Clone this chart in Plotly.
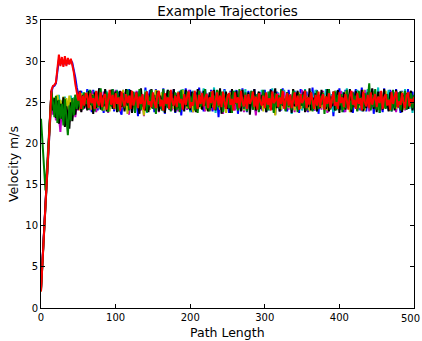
import plotly.graph_objects as go

# Path length samples: early part every 2 units, then every 2 units to 500
x_early = [0, 2, 4, 6, 8, 10, 12, 14, 16, 18, 20, 22, 24, 26, 28, 30,
           32, 34, 36, 38, 40, 42, 44, 46, 48, 50, 52, 54, 56, 58, 60]
x_late = list(range(62, 502, 2))
x_vals = x_early + x_late

# Velocity values (early transient + steady noisy band)
blue_early = [2.2, 5.7, 9.2, 12.7, 16.2, 19.7, 23.2, 26.3, 26.9, 27.0, 27.3, 28.8, 30.2, 29.6, 30.1, 29.5,
              30.2, 29.6, 30.0, 29.7, 30.1, 29.8, 29.0, 28.0, 26.8, 26.0, 25.2, 26.4, 24.4, 25.9, 24.6]
blue_late = [
    26.6, 24.1, 25.4, 23.8, 26.5, 24.7, 25.9, 24.0, 26.7, 24.3, 25.2, 23.7, 26.4, 24.9, 26.0, 24.2, 25.6, 26.6, 23.9, 25.3,
    24.5, 26.3, 24.0, 23.5, 26.5, 24.8, 25.7, 24.1, 26.6, 25.0, 23.8, 26.2, 24.4, 25.5, 23.3, 26.4, 24.6, 25.9, 24.0, 26.8,
    23.9, 25.4, 26.5, 24.3, 25.8, 23.8, 26.6, 24.5, 26.1, 24.2, 25.3, 26.7, 23.6, 25.8, 24.4, 26.3, 24.0, 25.5, 26.6, 23.7,
    25.9, 24.6, 26.4, 23.4, 25.6, 24.8, 26.7, 24.1, 25.2, 26.5, 23.8, 25.7, 24.3, 26.2, 24.0, 26.8, 24.5, 25.4, 23.9, 26.6,
    24.7, 25.8, 24.2, 26.5, 23.9, 26.3, 24.6, 25.9, 23.2, 26.0, 24.4, 25.5, 26.6, 24.0, 25.3, 23.7, 26.4, 24.8, 25.7, 24.2,
    26.5, 23.6, 25.6, 24.3, 26.7, 24.9, 25.1, 23.8, 26.4, 24.5, 25.8, 24.1, 26.6, 23.9, 25.4, 24.7, 26.2, 24.0, 25.7, 26.5,
    23.8, 25.3, 24.6, 26.6, 24.2, 25.9, 23.5, 26.3, 24.8, 25.5, 24.0, 26.7, 24.4, 25.2, 23.9, 26.5, 24.6, 25.8, 24.1, 26.4,
    24.3, 25.6, 23.7, 26.6, 24.9, 25.4, 24.2, 26.3, 23.8, 25.7, 24.5, 26.8, 24.0, 25.3, 26.5, 23.6, 25.9, 24.4, 26.2, 24.7,
    25.5, 23.9, 26.6, 24.3, 25.8, 23.3, 26.4, 24.6, 25.2, 26.7, 24.1, 25.6, 23.8, 26.5, 24.8, 25.9, 24.2, 26.3, 23.7, 25.4,
    26.6, 24.4, 25.7, 24.0, 26.8, 24.7, 25.3, 23.9, 26.5, 24.2, 25.8, 26.6, 23.6, 25.5, 24.5, 26.3, 24.1, 25.9, 23.8, 26.7,
    24.6, 25.4, 24.0, 26.5, 23.9, 25.7, 24.3, 26.6, 24.8, 25.2, 23.7, 26.4, 24.5, 25.9, 24.1, 26.6, 24.4, 25.6, 26.3, 24.2]

cyan_early = [2.1, 5.6, 9.1, 12.6, 16.1, 19.6, 23.1, 25.8, 24.6, 23.8, 25.4, 24.1, 25.9, 23.6, 25.2, 24.3,
              25.7, 23.9, 25.1, 24.5, 25.8, 24.0, 25.6, 24.4, 26.0, 24.7, 25.5, 24.3, 26.2, 24.9, 25.4]
cyan_late = [
    25.2, 26.5, 24.3, 25.8, 24.0, 26.4, 24.7, 25.5, 26.6, 24.2, 25.9, 24.6, 25.3, 26.4, 23.9, 25.7, 24.5, 26.2, 24.8, 25.0,
    26.5, 24.1, 25.6, 24.3, 26.1, 24.9, 25.4, 26.6, 24.0, 25.8, 24.6, 26.0, 23.8, 25.5, 26.3, 24.4, 25.9, 24.7, 25.2, 26.5,
    23.7, 25.6, 24.2, 26.1, 24.9, 25.7, 24.1, 26.4, 25.0, 24.5, 26.2, 23.9, 25.8, 24.6, 26.5, 24.3, 25.4, 26.0, 24.8, 25.6,
    24.0, 26.3, 24.7, 25.1, 26.6, 24.2, 25.9, 24.5, 26.1, 23.8, 25.3, 26.4, 24.6, 25.7, 24.1, 26.2, 24.9, 25.5, 26.7, 24.3,
    25.8, 24.0, 26.0, 24.7, 25.4, 26.8, 23.7, 25.6, 24.4, 26.3, 24.8, 25.2, 26.5, 24.1, 25.9, 24.6, 26.1, 23.9, 25.5, 26.4,
    24.2, 25.7, 24.8, 26.2, 24.0, 25.3, 26.6, 24.5, 25.9, 24.1, 26.4, 24.7, 25.6, 23.8, 26.0, 24.9, 25.4, 26.5, 24.3, 25.8,
    24.6, 26.3, 24.0, 25.5, 26.7, 24.4, 25.1, 24.8, 26.2, 23.9, 25.7, 24.5, 26.5, 24.2, 25.9, 24.7, 26.0, 23.6, 25.3, 26.4,
    24.3, 25.8, 24.9, 26.1, 24.0, 25.6, 26.6, 24.5, 25.2, 24.1, 26.3, 24.8, 25.5, 26.5, 23.9, 25.8, 24.4, 26.2, 24.7, 25.4,
    26.6, 24.2, 25.9, 24.6, 26.0, 23.8, 25.7, 26.4, 24.3, 25.1, 24.9, 26.3, 24.1, 25.6, 26.7, 24.5, 25.3, 24.0, 26.2, 24.8,
    25.5, 26.5, 24.4, 25.8, 23.9, 26.1, 24.7, 25.4, 26.6, 24.0, 25.9, 24.6, 26.3, 24.2, 25.2, 26.8, 23.7, 25.6, 24.9, 26.0,
    24.3, 25.7, 26.5, 24.1, 25.5, 24.8, 26.2, 23.9, 25.8, 24.5, 26.4, 24.0, 25.3, 26.6, 24.6, 25.9, 24.2, 26.1, 23.7, 25.6]

magenta_early = [2.4, 5.9, 9.3, 12.8, 16.3, 19.8, 23.0, 25.6, 23.5, 25.1, 22.8, 24.9, 23.3, 21.4, 24.6, 22.9,
                 25.3, 23.7, 24.8, 22.6, 25.0, 23.9, 25.4, 23.2, 25.1, 24.0, 25.8, 23.9, 25.3, 24.2, 26.0]
magenta_late = [
    24.5, 25.9, 24.0, 26.4, 24.8, 25.3, 23.8, 26.1, 24.6, 25.7, 24.2, 26.3, 24.9, 25.1, 23.7, 26.0, 24.4, 25.6, 24.1, 26.5,
    24.7, 25.2, 23.9, 25.8, 24.3, 26.2, 24.6, 25.4, 23.5, 26.0, 24.8, 25.7, 24.2, 26.4, 24.5, 25.1, 24.0, 25.9, 23.3, 26.2,
    24.7, 25.5, 24.1, 26.3, 24.9, 25.6, 24.3, 26.0, 23.8, 25.4, 24.6, 26.4, 24.2, 25.8, 24.7, 25.1, 26.3, 24.0, 25.7, 24.5,
    26.1, 23.9, 25.5, 24.8, 26.2, 24.3, 25.6, 24.1, 26.5, 24.6, 25.2, 23.8, 26.0, 24.4, 25.9, 24.7, 26.3, 24.2, 25.4, 23.9,
    26.1, 24.8, 25.6, 24.0, 26.4, 24.5, 25.3, 24.9, 26.2, 24.1, 25.7, 23.6, 26.0, 24.6, 25.5, 24.3, 26.3, 24.8, 25.1, 24.0,
    25.9, 24.4, 26.4, 24.7, 25.2, 23.8, 26.1, 24.5, 25.6, 24.2, 26.3, 24.9, 25.4, 23.4, 25.8, 24.6, 26.2, 24.1, 25.5, 24.8,
    26.0, 24.3, 25.7, 24.9, 26.4, 24.0, 25.3, 24.6, 26.1, 23.9, 25.8, 24.4, 26.3, 24.7, 25.2, 24.1, 26.0, 24.5, 25.6, 23.8,
    26.2, 24.8, 25.4, 24.2, 26.5, 24.6, 25.1, 23.9, 25.9, 24.3, 26.1, 24.7, 25.5, 24.0, 26.3, 24.5, 25.7, 24.1, 26.4, 24.8,
    25.3, 23.7, 26.0, 24.4, 25.8, 24.6, 26.2, 24.1, 25.5, 24.9, 26.4, 24.3, 25.2, 23.8, 26.1, 24.7, 25.6, 24.2, 26.3, 24.5,
    25.9, 24.0, 26.2, 24.8, 25.4, 24.3, 26.5, 24.6, 25.1, 23.9, 25.8, 24.4, 26.1, 24.7, 25.6, 24.2, 26.3, 24.0, 25.7, 24.9,
    26.0, 24.5, 25.3, 24.1, 26.4, 24.6, 25.9, 23.8, 26.2, 24.3, 25.5, 24.8, 26.1, 24.0, 25.7, 24.4, 26.3, 24.7, 25.4, 24.9]

yellow_early = [2.0, 5.4, 8.9, 12.4, 15.9, 19.4, 22.9, 26.0, 24.8, 25.6, 24.2, 25.9, 24.5, 25.3, 23.9, 25.7,
                24.4, 25.5, 24.1, 25.8, 24.6, 25.2, 24.3, 25.9, 24.7, 25.4, 24.0, 26.1, 24.8, 25.3, 24.5]
yellow_late = [
    26.2, 24.6, 25.5, 24.1, 26.0, 24.8, 25.7, 24.3, 26.4, 24.9, 25.2, 24.0, 26.1, 24.5, 25.8, 23.9, 26.3, 24.7, 25.4, 24.2,
    26.0, 24.8, 25.6, 24.4, 26.5, 24.1, 25.3, 23.6, 25.9, 24.6, 26.2, 24.3, 25.7, 24.9, 26.0, 24.2, 25.5, 24.7, 23.4, 26.3,
    24.5, 25.8, 24.1, 26.1, 24.8, 25.4, 26.5, 24.3, 25.9, 24.6, 26.2, 24.0, 25.6, 24.9, 26.4, 24.4, 25.3, 26.0, 24.2, 25.8,
    24.7, 26.3, 24.1, 25.5, 26.5, 24.6, 25.0, 24.3, 26.2, 24.8, 25.7, 23.8, 26.0, 24.5, 25.4, 26.4, 24.2, 25.9, 24.7, 26.1,
    24.0, 25.6, 24.9, 26.3, 24.4, 25.8, 24.6, 25.2, 26.4, 24.1, 25.9, 24.7, 26.0, 23.7, 25.5, 24.8, 26.2, 24.3, 25.7, 24.9,
    26.1, 24.2, 25.4, 24.6, 26.5, 24.0, 25.8, 24.7, 26.0, 24.3, 25.6, 26.3, 24.1, 25.3, 24.8, 26.2, 24.4, 25.9, 23.9, 26.1,
    24.6, 25.5, 24.2, 26.4, 24.9, 25.7, 23.4, 26.0, 24.5, 25.8, 24.1, 26.3, 24.7, 25.2, 26.1, 24.3, 25.6, 24.8, 26.5, 24.0,
    25.9, 24.6, 26.2, 24.2, 25.4, 24.9, 26.0, 24.4, 25.7, 23.9, 26.3, 24.6, 25.5, 24.1, 26.4, 24.8, 25.1, 24.3, 26.2, 24.7,
    25.8, 24.0, 26.1, 24.5, 25.6, 24.9, 26.4, 24.2, 25.3, 26.0, 24.6, 25.9, 24.1, 26.3, 24.7, 25.5, 23.8, 26.1, 24.4, 25.7,
    24.9, 26.2, 24.3, 25.8, 24.6, 26.5, 24.0, 25.4, 24.8, 26.0, 24.2, 25.6, 26.3, 24.5, 25.2, 24.1, 26.1, 24.7, 25.9, 24.3,
    26.4, 24.6, 25.5, 24.0, 26.2, 24.8, 25.7, 24.2, 26.0, 24.5, 25.3, 26.3, 24.1, 25.8, 24.7, 26.1, 24.4, 25.6, 24.9, 25.2]

black_early = [2.3, 5.8, 9.4, 12.9, 16.4, 19.9, 23.3, 26.4, 24.0, 25.5, 23.1, 25.2, 22.4, 24.8, 23.0, 25.6,
               22.0, 24.5, 23.2, 21.8, 25.0, 22.7, 24.6, 23.5, 25.3, 24.1, 26.4, 23.8, 25.9, 24.3, 25.6]
black_late = [
    24.0, 26.4, 24.7, 25.9, 23.6, 26.2, 24.3, 25.5, 26.7, 24.1, 25.8, 24.5, 26.6, 23.9, 25.3, 24.8, 26.5, 24.2, 25.7, 26.3,
    23.8, 25.1, 26.4, 24.4, 25.6, 23.9, 26.6, 24.6, 25.2, 26.5, 23.7, 25.9, 24.3, 26.2, 24.8, 23.6, 26.7, 24.5, 25.4, 24.0,
    26.3, 23.8, 25.7, 26.6, 24.2, 25.5, 24.7, 26.4, 23.9, 25.8, 24.4, 26.1, 23.7, 25.6, 26.5, 24.1, 25.3, 24.6, 26.6, 23.8,
    25.9, 24.3, 26.2, 24.8, 25.4, 23.9, 26.5, 24.5, 25.7, 24.0, 26.3, 24.7, 25.2, 23.8, 26.6, 24.4, 25.8, 24.1, 26.4, 24.6,
    25.5, 23.9, 26.2, 24.3, 25.7, 26.5, 24.0, 25.6, 24.8, 26.7, 23.6, 25.4, 24.5, 26.3, 24.2, 25.9, 23.7, 26.6, 24.6, 25.1,
    26.4, 24.1, 25.8, 23.9, 26.5, 24.4, 25.3, 24.9, 26.2, 23.5, 25.7, 24.6, 26.6, 24.0, 25.5, 26.3, 24.2, 25.9, 24.7, 26.1,
    23.8, 25.6, 24.4, 26.5, 24.1, 25.2, 26.7, 24.3, 25.8, 23.9, 26.4, 24.6, 25.4, 24.0, 26.2, 24.8, 25.7, 23.7, 26.6, 24.5,
    25.3, 26.4, 24.1, 25.9, 24.6, 26.3, 23.8, 25.5, 24.4, 26.7, 24.0, 25.6, 24.7, 26.1, 23.9, 25.8, 24.3, 26.5, 24.8, 25.2,
    24.2, 26.6, 23.9, 25.7, 24.5, 26.3, 24.0, 25.4, 26.5, 23.7, 25.9, 24.6, 26.2, 24.1, 25.6, 24.8, 26.6, 23.8, 25.3, 24.4,
    26.4, 24.0, 25.8, 24.7, 26.5, 23.9, 25.5, 24.3, 26.2, 24.6, 25.1, 26.7, 24.2, 25.7, 23.8, 26.3, 24.5, 25.9, 24.1, 26.6,
    24.3, 25.4, 23.9, 26.2, 24.7, 25.8, 24.0, 26.5, 24.4, 25.6, 26.3, 23.8, 25.9, 24.6, 26.1, 24.2, 25.5, 26.4, 24.0, 25.7]

green_early = [23.0, 20.0, 16.5, 14.3, 17.0, 20.0, 23.5, 26.2, 25.0, 23.2, 25.8, 22.5, 25.3, 23.0, 24.8, 22.2,
               25.4, 23.1, 21.0, 24.6, 22.8, 25.5, 23.4, 25.9, 24.2, 26.0, 24.4, 25.7, 24.1, 26.2, 24.8]
green_late = [
    25.3, 24.1, 26.5, 24.6, 25.8, 23.9, 26.3, 24.4, 25.6, 26.7, 24.0, 25.4, 24.8, 26.2, 23.8, 25.9, 24.5, 26.6, 24.2, 25.1,
    26.4, 23.9, 25.7, 24.6, 26.1, 24.3, 25.5, 26.5, 24.0, 25.8, 24.7, 26.3, 23.7, 25.6, 24.4, 26.6, 24.1, 25.3, 24.9, 26.2,
    23.8, 25.7, 24.5, 26.5, 24.2, 25.9, 23.6, 26.3, 24.8, 25.4, 24.0, 26.6, 24.6, 25.7, 24.3, 26.4, 23.9, 25.5, 24.7, 26.2,
    24.1, 25.8, 23.8, 26.5, 24.4, 25.6, 24.9, 26.3, 24.2, 25.7, 24.6, 26.1, 24.0, 25.9, 23.7, 26.4, 24.5, 25.3, 24.8, 26.6,
    24.2, 25.5, 23.9, 26.2, 24.7, 25.8, 24.1, 26.5, 24.4, 25.2, 26.3, 23.8, 25.6, 24.6, 26.0, 24.3, 25.9, 23.7, 26.4, 24.8,
    25.4, 24.0, 26.6, 24.5, 25.7, 24.2, 26.2, 23.9, 25.5, 24.8, 26.4, 24.1, 25.8, 24.6, 26.0, 23.8, 25.3, 24.7, 26.5, 24.3,
    25.6, 24.0, 26.3, 24.9, 25.2, 23.7, 26.1, 24.5, 25.8, 24.2, 26.6, 24.7, 25.4, 23.9, 26.2, 24.4, 25.7, 24.1, 26.4, 24.8,
    25.5, 23.8, 26.0, 24.6, 25.9, 24.3, 26.5, 24.0, 25.6, 24.8, 26.2, 23.9, 25.3, 24.5, 26.4, 24.2, 25.8, 24.7, 26.1, 23.6,
    25.7, 24.4, 26.6, 24.1, 25.4, 24.9, 26.3, 24.0, 25.9, 24.6, 26.0, 23.8, 25.5, 24.3, 26.5, 24.7, 25.2, 24.1, 26.2, 24.5,
    25.8, 23.9, 26.4, 24.6, 25.6, 24.2, 26.1, 24.8, 25.3, 27.3, 24.0, 25.9, 24.4, 26.6, 24.1, 25.7, 23.7, 26.3, 24.6, 25.5,
    24.2, 26.0, 24.8, 25.4, 23.9, 26.5, 24.3, 25.8, 24.6, 26.2, 24.0, 25.6, 24.9, 26.4, 24.1, 25.7, 24.5, 26.1, 24.3, 25.9]

red_early = [2.0, 5.5, 9.0, 12.5, 16.0, 19.5, 23.0, 26.5, 27.0, 27.1, 27.4, 29.0, 30.8, 29.4, 30.5, 29.3,
             30.6, 29.4, 30.4, 29.6, 30.3, 29.5, 28.6, 27.2, 26.0, 25.2, 26.3, 24.2, 25.8, 24.6, 26.1]
red_late = [
    25.8, 24.3, 26.1, 24.9, 25.5, 24.2, 26.4, 25.0, 24.6, 26.2, 24.4, 25.7, 26.0, 24.1, 25.3, 26.5, 24.7, 25.9, 24.3, 26.1,
    24.8, 25.6, 24.0, 26.3, 25.2, 24.5, 26.0, 24.9, 25.8, 24.2, 26.4, 24.6, 25.4, 26.2, 24.3, 25.7, 24.8, 26.0, 24.1, 25.5,
    26.3, 24.7, 25.1, 24.4, 26.2, 25.0, 24.3, 25.9, 26.4, 24.5, 25.3, 24.0, 26.1, 24.8, 25.6, 24.2, 26.5, 25.1, 24.6, 25.8,
    24.4, 26.2, 24.9, 25.4, 24.1, 26.0, 24.7, 25.7, 26.3, 24.3, 25.0, 24.6, 26.4, 25.3, 24.2, 25.9, 24.8, 26.1, 24.5, 25.5,
    26.0, 24.3, 25.6, 24.9, 26.4, 24.1, 25.2, 26.2, 24.6, 25.8, 24.4, 26.3, 25.0, 24.2, 25.7, 26.1, 24.7, 25.4, 24.0, 26.2,
    24.9, 25.6, 24.3, 26.4, 25.1, 24.5, 25.9, 24.2, 26.0, 24.8, 25.3, 26.3, 24.4, 25.7, 24.1, 26.1, 25.0, 24.6, 25.8, 24.3,
    26.2, 24.7, 25.5, 24.0, 26.3, 24.9, 25.2, 26.0, 24.4, 25.6, 24.8, 26.4, 24.2, 25.4, 26.1, 24.6, 25.9, 24.3, 25.1, 26.2,
    24.5, 25.8, 24.1, 26.0, 24.9, 25.3, 26.4, 24.3, 25.6, 24.7, 26.2, 25.0, 24.2, 25.9, 24.6, 26.3, 24.4, 25.5, 26.0, 24.1,
    25.7, 24.8, 26.1, 24.3, 25.4, 26.3, 24.6, 25.0, 24.2, 26.2, 24.9, 25.6, 24.4, 26.0, 25.2, 24.1, 25.8, 26.4, 24.7, 25.3,
    24.2, 26.1, 24.8, 25.5, 24.0, 26.3, 25.1, 24.5, 25.9, 24.3, 26.2, 24.7, 25.4, 26.0, 24.4, 25.7, 24.9, 26.4, 24.2, 25.6,
    26.0, 24.6, 25.3, 24.1, 26.2, 24.8, 25.7, 26.3, 24.4, 25.1, 24.7, 26.1, 25.0, 24.3, 25.8, 26.2, 24.5, 25.4, 24.9, 25.6]

series = [
    (blue_early + blue_late, "#0000ff"),
    (cyan_early + cyan_late, "#00bfbf"),
    (magenta_early + magenta_late, "#bf00bf"),
    (yellow_early + yellow_late, "#bfbf00"),
    (black_early + black_late, "#000000"),
    (green_early + green_late, "#008000"),
    (red_early + red_late, "#ff0000"),
]

x_ticks = [0, 100, 200, 300, 400, 500]
x_tick_text = ["0", "100", "200", "300", "400", ""]   # last label drawn separately so it stays inside the page
x_last_label = "500"
y_ticks = [0, 5, 10, 15, 20, 25, 30, 35]

fig = go.Figure()
for vals, col in series:
    fig.add_trace(go.Scatter(x=x_vals[:len(vals)], y=vals, mode="lines",
                             line=dict(color=col, width=2), showlegend=False,
                             hoverinfo="skip"))

font_family = "DejaVu Sans"
tick_font = dict(family=font_family, size=10, color="#000000")
axis_common = dict(showgrid=False, zeroline=False, showline=True, linecolor="#000000",
                   linewidth=1, mirror="ticks", ticks="inside", ticklen=4,
                   tickcolor="#000000", automargin=False, tickfont=tick_font)

fig.update_layout(
    width=422, height=341,
    margin=dict(l=41, r=8, t=20, b=33, autoexpand=False),
    paper_bgcolor="white", plot_bgcolor="white",
    title=dict(text="Example Trajectories", x=0.5, xref="paper", y=1 - 11 / 341,
               yref="container", yanchor="middle", xanchor="center",
               font=dict(family=font_family, size=13.5, color="#000000")),
    xaxis=dict(range=[0, 500], tickvals=x_ticks, ticktext=x_tick_text, **axis_common),
    yaxis=dict(range=[0, 35], tickvals=y_ticks, **axis_common),
)
fig.add_annotation(text=x_last_label, x=1, xref="paper", y=0, yref="paper",
                   xanchor="right", xshift=8, yshift=-10, yanchor="middle",
                   showarrow=False, font=tick_font)
fig.add_annotation(text="Path Length", x=0.5, xref="paper", y=0, yref="paper",
                   yshift=-24, yanchor="middle", showarrow=False,
                   font=dict(family=font_family, size=12.5, color="#000000"))
fig.add_annotation(text="Velocity m/s", x=0, xref="paper", y=0.5, yref="paper",
                   xshift=-28, xanchor="center", yanchor="middle", textangle=-90,
                   showarrow=False, font=dict(family=font_family, size=12.5, color="#000000"))

fig.write_html("out.html", config={"displayModeBar": False},
               post_script="document.body.style.margin='0';document.body.style.overflow='hidden';")
